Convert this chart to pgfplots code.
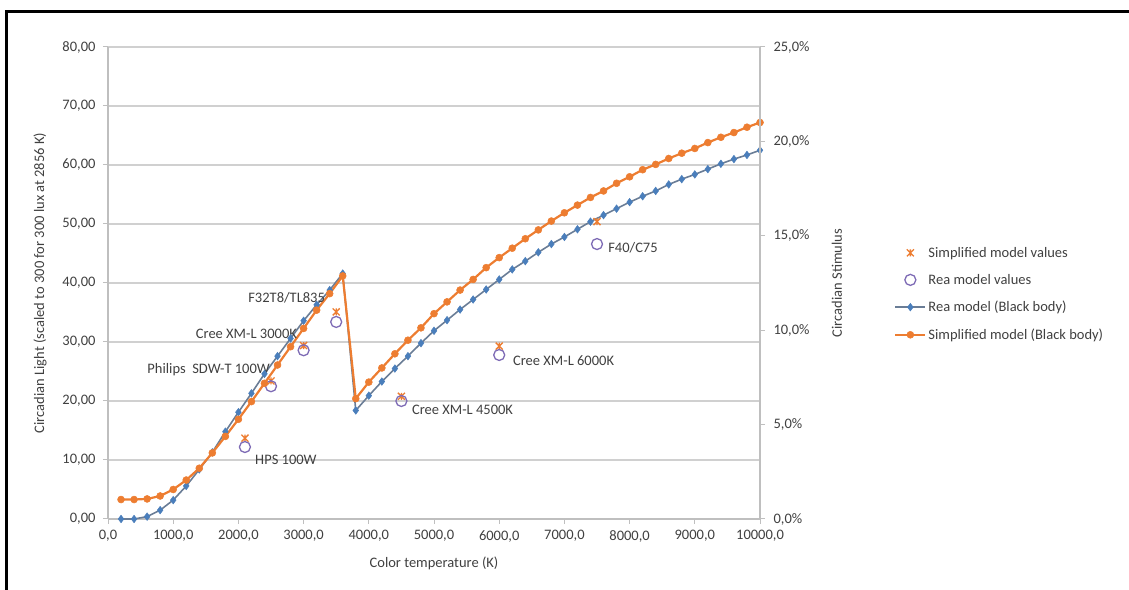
\documentclass[border=0pt]{standalone}
\usepackage{pgfplots}
\pgfplotsset{compat=1.18}
\usepackage{pgfplotstable}
\usepackage{fontspec}
\setmainfont{Carlito}
\definecolor{bluemk}{HTML}{4A7EBB}
\definecolor{blueline}{HTML}{6A7D96}
\definecolor{orng}{HTML}{ED7D31}
\definecolor{purp}{HTML}{7E6BB5}
\definecolor{gridgray}{HTML}{D0D0D0}
\definecolor{axgray}{HTML}{BFBFBF}
\definecolor{txt}{HTML}{404040}
\pgfdeclareplotmark{xstar}{%
  \pgfpathmoveto{\pgfqpoint{-\pgfplotmarksize}{-\pgfplotmarksize}}%
  \pgfpathlineto{\pgfqpoint{\pgfplotmarksize}{\pgfplotmarksize}}%
  \pgfpathmoveto{\pgfqpoint{-\pgfplotmarksize}{\pgfplotmarksize}}%
  \pgfpathlineto{\pgfqpoint{\pgfplotmarksize}{-\pgfplotmarksize}}%
  \pgfpathmoveto{\pgfqpoint{0pt}{\pgfplotmarksize}}%
  \pgfpathlineto{\pgfqpoint{0pt}{-\pgfplotmarksize}}%
  \pgfusepathqstroke}
\pgfplotstableread{
x y
200 0
400 0
600 0.4
800 1.5
1000 3.2
1200 5.6
1400 8.4
1600 11.3
1800 14.8
2000 18.1
2200 21.3
2400 24.6
2600 27.6
2800 30.6
3000 33.6
3200 36.3
3400 38.8
3600 41.6
3800 18.4
4000 20.9
4200 23.3
4400 25.5
4600 27.6
4800 29.8
5000 31.9
5200 33.7
5400 35.5
5600 37.2
5800 38.9
6000 40.6
6200 42.3
6400 43.7
6600 45.2
6800 46.6
7000 47.8
7200 49.1
7400 50.4
7600 51.5
7800 52.6
8000 53.7
8200 54.7
8400 55.6
8600 56.7
8800 57.6
9000 58.4
9200 59.3
9400 60.2
9600 61.0
9800 61.7
10000 62.5
}\rea
\pgfplotstableread{
x y
200 3.3
400 3.3
600 3.4
800 3.9
1000 5.0
1200 6.6
1400 8.6
1600 11.2
1800 14.0
2000 16.9
2200 19.9
2400 23.0
2600 26.1
2800 29.2
3000 32.3
3200 35.4
3400 38.2
3600 41.2
3800 20.4
4000 23.2
4200 25.6
4400 28.0
4600 30.3
4800 32.4
5000 34.8
5200 36.8
5400 38.8
5600 40.6
5800 42.6
6000 44.3
6200 45.9
6400 47.5
6600 49.0
6800 50.5
7000 51.9
7200 53.2
7400 54.5
7600 55.6
7800 56.9
8000 58.0
8200 59.2
8400 60.1
8600 61.1
8800 62.0
9000 62.8
9200 63.8
9400 64.7
9600 65.5
9800 66.4
10000 67.2
}\simp
\pgfplotstableread{
x y
2100 12.2
2500 22.5
3000 28.6
3500 33.4
4500 20.0
6000 27.8
7500 46.6
}\reapts
\pgfplotstableread{
x y
2100 13.7
2500 23.4
3000 29.4
3500 35.1
4500 20.8
6000 29.3
7500 50.4
}\simppts
\newcommand{\ff}{\fontsize{14.5bp}{17bp}\selectfont}
\begin{document}
\begin{tikzpicture}[x=1bp,y=1bp]
\path[use as bounding box] (0,0) rectangle (1129,590);
\draw[line width=3bp] (6,0) -- (6,578) -- (1129,578);
\begin{axis}[
  at={(108bp,71bp)}, anchor=south west,
  scale only axis, width=652bp, height=472bp,
  xmin=0, xmax=10000, ymin=0, ymax=80,
  scaled x ticks=false, scaled y ticks=false,
  axis x line*=bottom, axis y line*=left,
  axis line style={-, draw=axgray, line width=1.2bp},
  tick align=outside, major tick length=5bp,
  tick style={draw=axgray, line width=1bp},
  xtick={0,1000,...,10000},
  xticklabels={{0,0},{1000,0},{2000,0},{3000,0},{4000,0},{5000,0},{6000,0},{7000,0},{8000,0},{9000,0},{10000,0}},
  ytick={0,10,...,80},
  yticklabels={{0,00},{10,00},{20,00},{30,00},{40,00},{50,00},{60,00},{70,00},{80,00}},
  ymajorgrids, grid style={draw=gridgray, line width=1.2bp},
  tick label style={font=\ff, text=txt},
  xticklabel style={yshift=-3bp},
  yticklabel style={xshift=-4bp},
  label style={font=\ff, text=txt},
  xlabel={Color temperature (K)},
  ylabel={Circadian Light (scaled to 300 for 300 lux at 2856 K)},
  xlabel style={at={(axis description cs:0.5,-0.093)}, anchor=center},
  ylabel style={at={(axis description cs:-0.104,0.5)}, anchor=center, rotate=0},
  legend style={at={(axis description cs:1.201,0.585)}, anchor=north west, draw=none, fill=none,
    font=\ff, text=txt, row sep=11.5bp, cells={anchor=west}},
  legend cell align=left,
  legend image code/.code={\draw[mark repeat=2,mark phase=2,#1] plot coordinates {(0bp,0bp) (15bp,0bp) (30bp,0bp)};},
  clip=false,
]
\addplot[only marks, mark=xstar, mark size=3.5bp, draw=orng, line width=1.3bp] table[x=x,y=y] {\simppts};
\addlegendentry{Simplified model values}
\addplot[only marks, mark=o, mark size=5.5bp, draw=purp, line width=1.3bp] table[x=x,y=y] {\reapts};
\addlegendentry{Rea model values}
\addplot[draw=blueline, line width=1.6bp, mark=diamond*, mark size=3.8bp, mark options={fill=bluemk, draw=bluemk, line width=0.5bp}] table[x=x,y=y] {\rea};
\addlegendentry{Rea model (Black body)}
\addplot[draw=orng, line width=2.2bp, mark=*, mark size=3.5bp, mark options={fill=orng, draw=orng, line width=0.5bp}] table[x=x,y=y] {\simp};
\addlegendentry{Simplified model (Black body)}
\begin{scope}[every node/.style={font=\ff, text=txt, inner sep=0pt}]
\node[anchor=west] at (axis cs:2255,10.0) {HPS 100W};
\node[anchor=east] at (axis cs:2485,25.3) {Philips\ \ SDW-T 100W};
\node[anchor=east] at (axis cs:2900,31.4) {Cree XM-L 3000K};
\node[anchor=east] at (axis cs:3330,37.5) {F32T8/TL835};
\node[anchor=west] at (axis cs:4660,18.5) {Cree XM-L 4500K};
\node[anchor=west] at (axis cs:6210,26.9) {Cree XM-L 6000K};
\node[anchor=west] at (axis cs:7670,45.9) {F40/C75};
\end{scope}
\end{axis}
\begin{axis}[
  at={(108bp,71bp)}, anchor=south west,
  scale only axis, width=652bp, height=472bp,
  xmin=0, xmax=10000, ymin=0, ymax=25,
  axis x line=none, axis y line*=right,
  axis line style={-, draw=axgray, line width=1.2bp},
  tick align=outside, major tick length=5bp,
  tick style={draw=axgray, line width=1bp},
  ytick={0,5,...,25},
  yticklabels={{0,0\%},{5,0\%},{10,0\%},{15,0\%},{20,0\%},{25,0\%}},
  tick label style={font=\ff, text=txt},
  yticklabel style={xshift=5bp},
  label style={font=\ff, text=txt},
  ylabel={Circadian Stimulus},
  ylabel style={at={(axis description cs:1.118,0.5)}, anchor=center, rotate=0},
]
\addplot[draw=none, forget plot] coordinates {(0,0)};
\end{axis}
\end{tikzpicture}
\end{document}
